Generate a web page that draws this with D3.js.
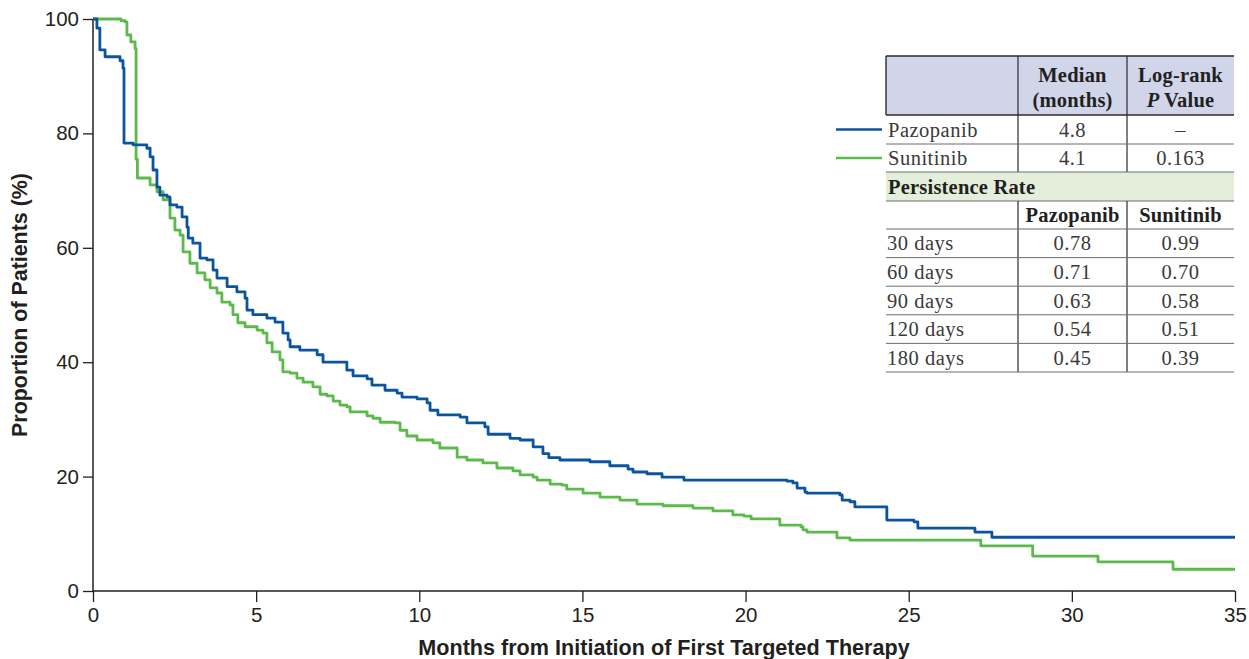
<!DOCTYPE html>
<html><head><meta charset="utf-8">
<script src="https://cdn.jsdelivr.net/npm/d3@7"></script>
<style>
html,body{margin:0;padding:0;background:#fff;}
svg{display:block;}
</style></head>
<body>
<svg id="chart" width="1249" height="659"></svg>
<script>
// ---------- DATA ----------
const xTicks = [0, 5, 10, 15, 20, 25, 30, 35];
const yTicks = [0, 20, 40, 60, 80, 100];
const seriesNames = ["Pazopanib", "Sunitinib"];

const pazopanibMonths = [0,0.12,0.21,0.37,0.83,0.92,0.95,1.23,1.65,1.75,1.84,1.96,2.05,2.27,2.36,2.57,2.73,2.88,2.92,3.06,3.28,3.49,3.68,3.80,4.11,4.41,4.66,4.72,4.90,5.33,5.58,5.82,5.98,6.04,6.34,6.87,7.05,7.78,7.97,8.40,8.55,8.95,9.32,9.47,9.93,10.24,10.33,10.57,11.25,11.46,12.01,12.11,12.78,13.09,13.49,13.79,13.97,14.31,15.23,15.84,16.40,16.55,16.98,17.44,18.11,21.27,21.45,21.58,21.82,21.88,22.89,22.96,23.20,23.35,24.33,25.16,25.28,27.03,27.55,35];
const pazopanibPct = [100,98.4,94.6,93.4,92.7,91.4,78.3,78.0,77.4,75.9,73.6,70.6,69.2,68.9,67.5,67.1,65.4,63.6,61.7,60.8,58.2,57.9,56.1,54.7,53.2,52.3,51.2,49.1,48.3,47.7,47.0,45.1,43.9,42.7,42.1,41.3,40.0,38.6,37.6,37.1,36.0,35.1,34.6,33.9,33.6,32.9,31.6,30.8,30.4,29.4,28.7,27.4,26.7,26.4,25.2,24.0,23.3,22.9,22.6,21.9,21.3,20.8,20.5,19.9,19.4,19.2,18.9,18.0,17.3,17.1,16.8,15.9,15.6,14.7,12.4,12.1,11.0,10.3,9.4,9.4];

const sunitinibMonths = [0,0.86,0.98,1.04,1.16,1.29,1.32,1.36,1.75,1.96,2.15,2.36,2.51,2.67,2.76,2.97,3.19,3.43,3.59,3.80,3.95,4.20,4.29,4.44,4.66,5.03,5.21,5.33,5.49,5.73,5.82,6.04,6.25,6.44,6.74,6.96,7.17,7.36,7.57,7.78,7.88,8.40,8.58,8.80,9.26,9.41,9.62,9.93,10.42,10.63,11.16,11.46,11.95,12.38,12.87,13.09,13.49,13.61,14.01,14.37,14.52,15.02,15.54,16.15,16.67,17.47,18.39,19.00,19.61,19.95,20.17,21.05,21.70,21.76,21.88,22.80,23.20,27.21,28.80,30.80,33.10,35];
const sunitinibPct = [100,99.7,99.5,97.2,96.0,94.8,75.5,72.2,71.0,69.8,68.4,65.2,63.1,62.2,59.3,57.3,55.6,54.4,53.0,52.1,50.5,50.0,48.3,46.9,46.2,45.6,45.1,43.4,41.8,40.4,38.3,38.1,37.2,36.5,35.7,34.4,34.1,33.2,32.5,32.2,31.3,30.6,30.2,29.5,29.4,28.1,27.1,26.4,25.9,25.0,23.4,22.9,22.4,21.5,21.0,20.3,19.9,19.4,18.7,18.5,17.8,17.1,16.4,15.9,15.2,14.9,14.5,14.0,13.3,13.1,12.6,11.5,11.2,10.7,10.3,9.3,8.9,7.9,6.1,5.1,3.8,3.8];

const summaryHeader = [["Median", "(months)"], ["Log-rank", "P Value"]];
const medianMonths = ["4.8", "4.1"];
const logRankP = ["–", "0.163"];
const persistenceTitle = "Persistence Rate";
const persistenceLabels = ["30 days", "60 days", "90 days", "120 days", "180 days"];
const persistencePazopanib = ["0.78", "0.71", "0.63", "0.54", "0.45"];
const persistenceSunitinib = ["0.99", "0.70", "0.58", "0.51", "0.39"];

// ---------- LAYOUT ----------
const svg = d3.select("#chart");
const x = d3.scaleLinear().domain([0, 35]).range([93, 1235]);
const y = d3.scaleLinear().domain([0, 100]).range([591, 19]);
const colors = ["#0b559f", "#5cba4a"];
const ink = "#231f20";
const sans = "'Liberation Sans', Arial, Helvetica, sans-serif";
const serif = "'Liberation Serif', 'Times New Roman', serif";

// axes
const xAxis = svg.append("g").attr("transform", `translate(0,${y(0)})`)
  .call(d3.axisBottom(x).tickValues(xTicks).tickSize(11).tickPadding(5).tickFormat(d3.format("d")));
const yAxis = svg.append("g").attr("transform", `translate(${x(0)},0)`)
  .call(d3.axisLeft(y).tickValues(yTicks).tickSize(10).tickPadding(4).tickFormat(d3.format("d")));
[xAxis, yAxis].forEach(g => {
  g.selectAll("path.domain").attr("stroke", ink).attr("stroke-width", 1.5);
  g.selectAll(".tick line").attr("stroke", ink).attr("stroke-width", 1.3);
  g.selectAll(".tick text").attr("fill", ink).style("font-family", sans).style("font-size", "20.5px");
});
yAxis.select("path.domain").attr("d", `M0,${y(100)}V${y(0)}`);
xAxis.select("path.domain").attr("d", `M${x(0)},0H${x(35)}`);

svg.append("text").attr("x", x(17.5)).attr("y", 655)
  .attr("text-anchor", "middle").attr("fill", ink)
  .style("font-family", sans).style("font-size", "21.6px").style("font-weight", "bold")
  .text("Months from Initiation of First Targeted Therapy");
svg.append("text").attr("transform", `translate(27,${y(50)}) rotate(-90)`)
  .attr("text-anchor", "middle").attr("fill", ink)
  .style("font-family", sans).style("font-size", "21.4px").style("font-weight", "bold")
  .text("Proportion of Patients (%)");

// curves
const line = d3.line().x(d => x(d[0])).y(d => y(d[1])).curve(d3.curveStepAfter);
const seriesData = [
  d3.zip(pazopanibMonths, pazopanibPct),
  d3.zip(sunitinibMonths, sunitinibPct)
];
[1, 0].forEach(i => {
  svg.append("path").datum(seriesData[i]).attr("d", line)
    .attr("fill", "none").attr("stroke", colors[i]).attr("stroke-width", 2.8)
    .attr("stroke-linejoin", "round");
});

// ---------- TABLE ----------
const cx = [886, 1018, 1127, 1234];
const colMid = [(cx[1] + cx[2]) / 2, (cx[2] + cx[3]) / 2];
const tbl = svg.append("g");
const hTop = 56, hBot = 115;
const rowH1 = [115, 144, 172];
const greenTop = 172, greenBot = 201;
const subBot = 229;
const dataRows = persistenceLabels.map((_, i) => 229 + i * 28.6);
const tableBot = 229 + persistenceLabels.length * 28.6;

tbl.append("rect").attr("x", cx[0]).attr("y", hTop).attr("width", cx[3] - cx[0]).attr("height", hBot - hTop).attr("fill", "#d0d5ea");
tbl.append("rect").attr("x", cx[0]).attr("y", greenTop).attr("width", cx[3] - cx[0]).attr("height", greenBot - greenTop).attr("fill", "#e3efdb");

function hline(yy, col, w) { tbl.append("line").attr("x1", cx[0]).attr("x2", cx[3]).attr("y1", yy).attr("y2", yy).attr("stroke", col).attr("stroke-width", w); }
function vline(xx, y1, y2, col, w) { tbl.append("line").attr("x1", xx).attr("x2", xx).attr("y1", y1).attr("y2", y2).attr("stroke", col).attr("stroke-width", w); }

const dark = "#2b2b2b", grey = "#6d6d6d";
hline(hTop, dark, 1.4); hline(hBot, dark, 1.4);
vline(cx[0], hTop, hBot, dark, 1.4);
vline(cx[1], hTop, greenTop, dark, 1.2); vline(cx[2], hTop, greenTop, dark, 1.2);
hline(144, grey, 1); hline(greenTop, grey, 1); hline(greenBot, grey, 1);
vline(cx[1], greenBot, tableBot, dark, 1.2); vline(cx[2], greenBot, tableBot, dark, 1.2);
hline(subBot, grey, 1);
dataRows.forEach((r, i) => hline(r + 28.6, grey, 1));

function txt(xx, yy, s, anchor, bold, italicFirst) {
  const t = tbl.append("text").attr("x", xx).attr("y", yy).attr("text-anchor", anchor)
    .attr("fill", bold ? "#231f20" : "#3a3a3a")
    .style("font-family", serif).style("font-size", "20.5px")
    .style("letter-spacing", bold ? "0.2px" : "0.5px")
    .style("font-weight", bold ? "bold" : "normal");
  if (italicFirst) {
    const parts = s.split(" ");
    t.append("tspan").style("font-style", "italic").text(parts[0] + " ");
    t.append("tspan").text(parts.slice(1).join(" "));
  } else t.text(s);
  return t;
}
summaryHeader.forEach((lines, j) => {
  txt(colMid[j], 82, lines[0], "middle", true);
  txt(colMid[j], 107, lines[1], "middle", true, j === 1);
});
seriesNames.forEach((n, i) => {
  const cy = (rowH1[i] + rowH1[i + 1]) / 2 + 7;
  txt(cx[0] + 2, cy, n, "start", false);
  txt(colMid[0], cy, medianMonths[i], "middle", false);
  txt(colMid[1], cy, logRankP[i], "middle", false);
  svg.append("line").attr("x1", 836).attr("x2", 882)
    .attr("y1", (rowH1[i] + rowH1[i + 1]) / 2).attr("y2", (rowH1[i] + rowH1[i + 1]) / 2)
    .attr("stroke", colors[i]).attr("stroke-width", 2.6);
});
txt(cx[0] + 2, (greenTop + greenBot) / 2 + 7, persistenceTitle, "start", true);
seriesNames.forEach((n, j) => txt(colMid[j], (greenBot + subBot) / 2 + 7, n, "middle", true));
persistenceLabels.forEach((lab, i) => {
  const cy = dataRows[i] + 14.3 + 7;
  txt(cx[0] + 1, cy, lab, "start", false);
  txt(colMid[0], cy, persistencePazopanib[i], "middle", false);
  txt(colMid[1], cy, persistenceSunitinib[i], "middle", false);
});
</script>
</body></html>
